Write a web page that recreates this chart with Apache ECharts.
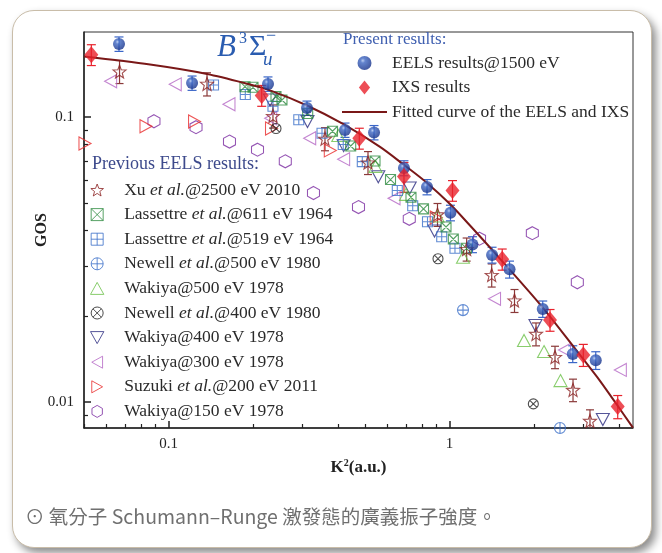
<!DOCTYPE html>
<html><head><meta charset="utf-8">
<script src="https://cdn.jsdelivr.net/npm/echarts@6/dist/echarts.min.js"></script>
<style>
html,body{margin:0;padding:0;background:#fff;}
#card{position:absolute;left:12px;top:10px;width:638px;height:536px;border:1px solid #c9bda9;border-radius:22px;background:#fff;box-shadow:4px 5px 8px rgba(0,0,0,0.45);}
#c{position:absolute;left:0;top:0;width:662px;height:553px;}
</style>
</head><body><div id="card"></div><div id="c"></div>
<script>
// ---- data (K^2 in a.u., GOS) ----
const eelsK2 = [0.0666, 0.1212, 0.2258, 0.3108, 0.4244, 0.5383, 0.688, 0.831, 1.007, 1.206, 1.416, 1.634, 2.145, 2.743, 3.312];
const eelsGOS = [0.1804, 0.1316, 0.1306, 0.1075, 0.0900, 0.0882, 0.0662, 0.0568, 0.0461, 0.0357, 0.0328, 0.0292, 0.0212, 0.01474, 0.0140];
const eelsErr = [0.0105, 0.0076, 0.0076, 0.0062, 0.0052, 0.0051, 0.0040, 0.0035, 0.0029, 0.0023, 0.0021, 0.0020, 0.0014, 0.0010, 0.0010];

const ixsK2 = [0.0531, 0.2145, 0.4772, 0.688, 1.024, 1.539, 2.277, 2.991, 3.965];
const ixsGOS = [0.1654, 0.1190, 0.0842, 0.0618, 0.0552, 0.0317, 0.0194, 0.01462, 0.00963];
const ixsErr = [0.0139, 0.0100, 0.0071, 0.0074, 0.0046, 0.0027, 0.0017, 0.0013, 0.0009];

const fitK2 = [0.0500, 0.0859, 0.1370, 0.1901, 0.2296, 0.3108, 0.4175, 0.5654, 0.6880, 0.8309, 1.003, 1.182, 1.450, 2.098, 2.749, 3.347, 3.943, 4.49];
const fitGOS = [0.1630, 0.1528, 0.1416, 0.1309, 0.1240, 0.1097, 0.0945, 0.0785, 0.0679, 0.0587, 0.0495, 0.0416, 0.0333, 0.0220, 0.01572, 0.01224, 0.00976, 0.00812];

const xuK2 = [0.0669, 0.1370, 0.2352, 0.3602, 0.5124, 0.9056, 1.150, 1.412, 1.702, 2.030, 2.372, 2.749, 3.159];
const xuGOS = [0.1444, 0.1307, 0.1008, 0.0839, 0.0692, 0.0455, 0.0344, 0.0279, 0.0227, 0.01733, 0.01438, 0.01102, 0.00858];
const xuErr = [0.0134, 0.0122, 0.0094, 0.0078, 0.0064, 0.0042, 0.0032, 0.0026, 0.0021, 0.0016, 0.0013, 0.0010, 0.0008];

const las611K2 = [0.1870, 0.1997, 0.2411, 0.2532, 0.3126, 0.3831, 0.4447, 0.5427, 0.6162, 0.7288, 0.8075, 0.9710, 1.031, 1.148];
const las611GOS = [0.1277, 0.1271, 0.1180, 0.1147, 0.1029, 0.0891, 0.0791, 0.0701, 0.0603, 0.0523, 0.0476, 0.0411, 0.0373, 0.0346];

const las519K2 = [0.1445, 0.1875, 0.2352, 0.2906, 0.3515, 0.4183, 0.4890, 0.6514, 0.7391, 0.8343, 0.9374, 1.045];
const las519GOS = [0.1295, 0.1199, 0.1090, 0.0978, 0.0877, 0.0801, 0.0697, 0.0552, 0.0488, 0.0429, 0.0380, 0.0346];

const new500K2 = [1.116, 2.471];
const new500GOS = [0.0210, 0.0081];

const wak500K2 = [0.4017, 0.5449, 0.6995, 0.9056, 1.116, 1.840, 2.168, 2.481];
const wak500GOS = [0.0861, 0.0671, 0.0535, 0.0449, 0.0322, 0.01643, 0.01502, 0.01188];

const new400K2 = [0.2411, 0.9093, 1.986];
const new400GOS = [0.0911, 0.0318, 0.00984];

const wak400K2 = [0.2296, 0.3121, 0.4197, 0.5575, 0.7211, 0.8836, 2.021, 3.510];
const wak400GOS = [0.1147, 0.0964, 0.0793, 0.0617, 0.0563, 0.0398, 0.01855, 0.00867];

const wak300K2 = [0.0622, 0.1056, 0.1640, 0.2309, 0.3178, 0.4197, 0.6342, 1.445, 2.564, 4.051];
const wak300GOS = [0.1335, 0.1302, 0.1108, 0.0990, 0.0842, 0.0711, 0.0518, 0.0230, 0.01522, 0.01295];

const suzK2 = [0.0504, 0.0831, 0.1237, 0.2324, 0.3762, 0.8961];
const suzGOS = [0.0807, 0.0928, 0.0964, 0.0911, 0.0763, 0.0444];

const wak150K2 = [0.0887, 0.1252, 0.1647, 0.2072, 0.2602, 0.3278, 0.4740, 0.7186, 1.278, 1.970, 2.848];
const wak150GOS = [0.0966, 0.0921, 0.0820, 0.0768, 0.0699, 0.0541, 0.0483, 0.0439, 0.0374, 0.0391, 0.0263];

const xMajorTicks = [0.1, 1];
const xMinorTicks = [0.05, 0.06, 0.07, 0.08, 0.09, 0.2, 0.3, 0.4, 0.5, 0.6, 0.7, 0.8, 0.9, 2, 3, 4];
const yMajorTicks = [0.01, 0.1];
const yMinorTicks = [0.009, 0.02, 0.03, 0.04, 0.05, 0.06, 0.07, 0.08, 0.09];

// ---- styling ----
const SERIF = "'Liberation Serif','Times New Roman',serif";
function starPath() {
  let d = '';
  for (let i = 0; i < 10; i++) {
    const r = i % 2 === 0 ? 10 : 4.2;
    const a = -Math.PI / 2 + i * Math.PI / 5;
    d += (i === 0 ? 'M' : 'L') + (10 + r * Math.cos(a)).toFixed(2) + ',' + (10 + r * Math.sin(a)).toFixed(2);
  }
  return 'path://' + d + 'Z';
}
const SYM = {
  star: starPath(),
  sqX: 'path://M0,0L10,0L10,10L0,10ZM0,0L10,10M10,0L0,10',
  sqP: 'path://M0,0L10,0L10,10L0,10ZM5,0L5,10M0,5L10,5',
  ciP: 'path://M0,5A5,5,0,1,1,10,5A5,5,0,1,1,0,5ZM5,0L5,10M0,5L10,5',
  ciX: 'path://M0,5A5,5,0,1,1,10,5A5,5,0,1,1,0,5ZM1.46,1.46L8.54,8.54M8.54,1.46L1.46,8.54',
  up: 'path://M5,0L10,9L0,9Z',
  down: 'path://M0,0L10,0L5,9Z',
  left: 'path://M9,0L9,10L0,5Z',
  right: 'path://M0,0L0,10L9,5Z',
  hex: 'path://M5,0L9.33,2.5L9.33,7.5L5,10L0.67,7.5L0.67,2.5Z',
  diamond: 'path://M6,0L12,7.5L6,15L0,7.5Z',
  bar: 'path://M0,0L45,0L45,2L0,2Z'
};

function zip(xs, ys) { return xs.map((x, i) => [x, ys[i]]); }
const CLEAR = 'rgba(255,255,255,0)';
function hollow(name, xs, ys, sym, color, size) {
  return {
    name, type: 'scatter', data: zip(xs, ys), symbol: sym, symbolSize: size, z: 3,
    itemStyle: { color: CLEAR, borderColor: color, borderWidth: 1.1 }
  };
}
function errSeries(xs, ys, es, color, capW) {
  return {
    type: 'custom', name: '_err', silent: true, z: 3, clip: true,
    data: xs.map((x, i) => [x, ys[i] - es[i], ys[i] + es[i]]),
    encode: { x: 0, y: [1, 2] },
    renderItem: (p, api) => {
      const lo = api.coord([api.value(0), api.value(1)]);
      const hi = api.coord([api.value(0), api.value(2)]);
      const w = capW / 2;
      const st = { stroke: color, lineWidth: 1.2 };
      return { type: 'group', children: [
        { type: 'line', shape: { x1: lo[0], y1: lo[1], x2: hi[0], y2: hi[1] }, style: st },
        { type: 'line', shape: { x1: lo[0] - w, y1: lo[1], x2: lo[0] + w, y2: lo[1] }, style: st },
        { type: 'line', shape: { x1: hi[0] - w, y1: hi[1], x2: hi[0] + w, y2: hi[1] }, style: st }
      ]};
    }
  };
}

const N = {
  eels: 'EELS results@1500 eV', ixs: 'IXS results', fit: 'Fitted curve of the EELS and IXS',
  xu: 'Xu et al.@2500 eV 2010', l611: 'Lassettre et al.@611 eV 1964', l519: 'Lassettre et al.@519 eV 1964',
  n500: 'Newell et al.@500 eV 1980', w500: 'Wakiya@500 eV 1978', n400: 'Newell et al.@400 eV 1980',
  w400: 'Wakiya@400 eV 1978', w300: 'Wakiya@300 eV 1978', s200: 'Suzuki et al.@200 eV 2011', w150: 'Wakiya@150 eV 1978'
};
const C = {
  eels: '#2a55b0', eelsErr: '#3a66c8', ixs: '#e8222c', fit: '#7a1818', xu: '#8b2020', xuErr: '#8b3a3a',
  l611: '#2e8b40', l519: '#3a6ec8', n500: '#3a6ec8', w500: '#6cc048', n400: '#222222',
  w400: '#2b2b80', w300: '#b466c4', s200: '#e82a2a', w150: '#7a2aa0'
};

const sphere = new echarts.graphic.RadialGradient(0.38, 0.33, 0.68, [
  { offset: 0, color: '#a9c0ee' }, { offset: 0.25, color: '#3d66c2' }, { offset: 1, color: '#15318a' }
]);

const series = [
  hollow(N.w150, wak150K2, wak150GOS, SYM.hex, C.w150, [12, 13]),
  hollow(N.s200, suzK2, suzGOS, SYM.right, C.s200, [12, 13]),
  hollow(N.w300, wak300K2, wak300GOS, SYM.left, C.w300, [12, 13]),
  hollow(N.w400, wak400K2, wak400GOS, SYM.down, C.w400, [13, 12]),
  hollow(N.n400, new400K2, new400GOS, SYM.ciX, C.n400, [10, 10]),
  hollow(N.w500, wak500K2, wak500GOS, SYM.up, C.w500, [13, 12]),
  hollow(N.n500, new500K2, new500GOS, SYM.ciP, C.n500, [11, 11]),
  hollow(N.l519, las519K2, las519GOS, SYM.sqP, C.l519, [10, 10]),
  hollow(N.l611, las611K2, las611GOS, SYM.sqX, C.l611, [10, 10]),
  errSeries(xuK2, xuGOS, xuErr, C.xuErr, 8),
  hollow(N.xu, xuK2, xuGOS, SYM.star, C.xu, [13, 13]),
  {
    name: N.fit, type: 'line', data: zip(fitK2, fitGOS), smooth: 0.3, symbol: 'none', z: 4,
    lineStyle: { color: C.fit, width: 2 }, itemStyle: { color: C.fit }
  },
  errSeries(eelsK2, eelsGOS, eelsErr, C.eelsErr, 9),
  {
    name: N.eels, type: 'scatter', data: zip(eelsK2, eelsGOS), symbol: 'circle', symbolSize: 12, z: 5,
    itemStyle: { color: sphere }
  },
  errSeries(ixsK2, ixsGOS, ixsErr, C.ixs, 9),
  {
    name: N.ixs, type: 'scatter', data: zip(ixsK2, ixsGOS), symbol: SYM.diamond, symbolSize: [14, 17], z: 5,
    itemStyle: { color: C.ixs }
  }
];

const LFS = 17.5;
const legendRich = {
  i: { fontStyle: 'italic', fontFamily: SERIF, fontSize: LFS, color: '#2a2a2a' }
};
function legendFmt(name) {
  return name.replace('et al.', '{i|et al.}');
}
function hollowItem(name, sym, color) {
  return { name, icon: sym, itemStyle: { color: CLEAR, borderColor: color, borderWidth: 1 } };
}

const chart = echarts.init(document.getElementById('c'), null, { renderer: 'canvas' });
chart.setOption({
  backgroundColor: 'transparent',
  animation: false,
  grid: { left: 84, top: 32, width: 549, height: 396, show: true, borderColor: '#333', borderWidth: 1, backgroundColor: 'rgba(0,0,0,0)' },
  xAxis: [
    {
      type: 'log', logBase: 10, min: 0.05, max: 4.494,
      name: 'K{s|2}(a.u.)', nameLocation: 'middle', nameGap: 30, nameMoveOverlap: false,
      nameTextStyle: { fontFamily: SERIF, fontWeight: 'bold', fontSize: 17, color: '#222',
        rich: { s: { fontSize: 10, fontWeight: 'bold', fontFamily: SERIF, verticalAlign: 'top', padding: [0, 0, 9, 0] } } },
      axisLine: { show: true, lineStyle: { color: '#222', width: 1.5 } },
      axisTick: { show: true, inside: true, length: 7, customValues: xMajorTicks, lineStyle: { color: '#222', width: 1.5 } },
      axisLabel: { customValues: xMajorTicks, formatter: v => String(+(+v).toPrecision(3)), fontFamily: SERIF, fontSize: 15, color: '#222', margin: 9 },
      splitLine: { show: false }
    },
    {
      type: 'log', logBase: 10, min: 0.05, max: 4.494, position: 'bottom',
      axisLine: { show: false },
      axisTick: { show: true, inside: true, length: 4, customValues: xMinorTicks, lineStyle: { color: '#222', width: 1.2 } },
      axisLabel: { show: false }, splitLine: { show: false }
    }
  ],
  yAxis: [
    {
      type: 'log', logBase: 10, min: 0.0081, max: 0.1987,
      name: 'GOS', nameLocation: 'middle', nameGap: 34, nameRotate: 90, nameMoveOverlap: false,
      nameTextStyle: { fontFamily: SERIF, fontWeight: 'bold', fontSize: 16, color: '#222' },
      axisLine: { show: true, lineStyle: { color: '#222', width: 1.5 } },
      axisTick: { show: true, inside: true, length: 7, customValues: yMajorTicks, lineStyle: { color: '#222', width: 1.5 } },
      axisLabel: { customValues: yMajorTicks, formatter: v => String(+(+v).toPrecision(3)), fontFamily: SERIF, fontSize: 15, color: '#222', margin: 10 },
      splitLine: { show: false }
    },
    {
      type: 'log', logBase: 10, min: 0.0081, max: 0.1987, position: 'left',
      axisLine: { show: false },
      axisTick: { show: true, inside: true, length: 4, customValues: yMinorTicks, lineStyle: { color: '#222', width: 1.2 } },
      axisLabel: { show: false }, splitLine: { show: false }
    }
  ],
  legend: [
    {
      data: [
        { name: N.eels, icon: 'circle', itemStyle: { color: sphere } },
        { name: N.ixs, icon: SYM.diamond, itemStyle: { color: C.ixs } },
        { name: N.fit, icon: SYM.bar, itemStyle: { color: C.fit, borderWidth: 0 } }
      ],
      orient: 'vertical', left: 337, top: 49,
      itemWidth: 45, itemHeight: 14, itemGap: 6.5, selectedMode: false, symbolKeepAspect: true,
      textStyle: { fontFamily: SERIF, fontSize: LFS, color: '#2a2a2a', lineHeight: 16 }
    },
    {
      data: [
        hollowItem(N.xu, SYM.star, C.xu), hollowItem(N.l611, SYM.sqX, C.l611), hollowItem(N.l519, SYM.sqP, C.l519),
        hollowItem(N.n500, SYM.ciP, C.n500), hollowItem(N.w500, SYM.up, C.w500), hollowItem(N.n400, SYM.ciX, C.n400),
        hollowItem(N.w400, SYM.down, C.w400), hollowItem(N.w300, SYM.left, C.w300), hollowItem(N.s200, SYM.right, C.s200),
        hollowItem(N.w150, SYM.hex, C.w150)
      ],
      orient: 'vertical', left: 85, top: 176,
      itemWidth: 44, itemHeight: 12, itemGap: 6.6, selectedMode: false, symbolKeepAspect: true,
      formatter: legendFmt,
      textStyle: { fontFamily: SERIF, fontSize: LFS, color: '#2a2a2a', lineHeight: 16, rich: legendRich }
    }
  ],
  graphic: [
    { type: 'text', left: 343, top: 31, style: { text: 'Present results:', font: "17px 'Liberation Serif', serif", fill: '#3f5fb0' } },
    { type: 'text', left: 92, top: 155, style: { text: 'Previous EELS results:', font: "18px 'Liberation Serif', serif", fill: '#3d4a8c' } },
    { type: 'text', left: 217, top: 32, style: { text: 'B', font: "italic 31px 'Liberation Serif', serif", fill: '#2a5cb0' } },
    { type: 'text', left: 239, top: 31, style: { text: '3', font: "16px 'Liberation Serif', serif", fill: '#2a5cb0' } },
    { type: 'text', left: 249, top: 32, style: { text: 'Σ', font: "30px 'Liberation Serif', serif", fill: '#2a5cb0' } },
    { type: 'text', left: 266, top: 27, style: { text: '−', font: "18px 'Liberation Serif', serif", fill: '#2a5cb0' } },
    { type: 'text', left: 263, top: 50, style: { text: 'u', font: "italic 19px 'Liberation Serif', serif", fill: '#2a5cb0' } },
    { type: 'text', left: 25, top: 507, style: { text: '⊙ 氧分子 Schumann–Runge 激發態的廣義振子強度。', font: "19.5px 'Noto Sans CJK TC', sans-serif", fill: '#707070' } }
  ],
  series
});
</script>
</body></html>
